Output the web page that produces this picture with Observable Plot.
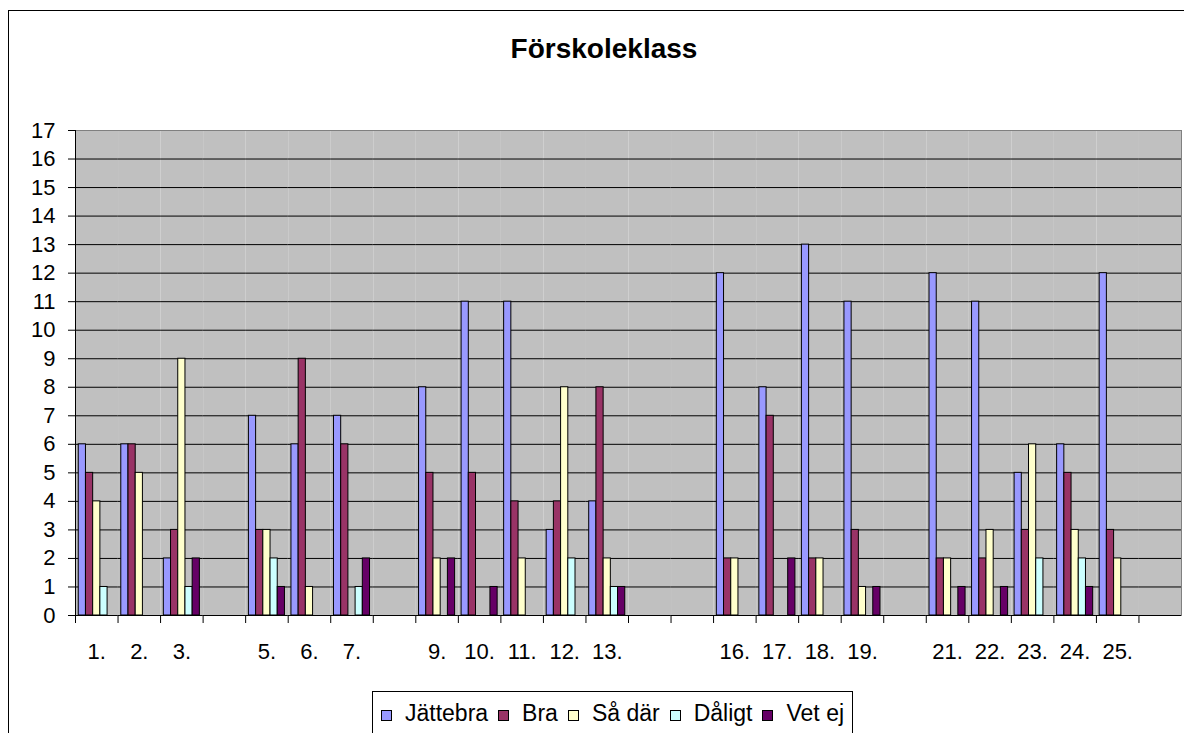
<!DOCTYPE html>
<html>
<head>
<meta charset="utf-8">
<script src="https://cdn.jsdelivr.net/npm/d3@7"></script>
<script src="https://cdn.jsdelivr.net/npm/@observablehq/plot@0.6"></script>
<style>
  html, body { margin: 0; padding: 0; background: #fff; overflow: hidden; }
  #wrap { position: relative; width: 1184px; height: 733px; overflow: hidden;
          font-family: Arial, "Liberation Sans", sans-serif; color: #000; }
  #border { position: absolute; left: 8px; top: 10px; width: 1300px; height: 900px;
            border: 1px solid #000; box-sizing: border-box; }
  #chart { position: absolute; left: 0; top: 0; }
  #title { position: absolute; left: 0; width: 1208px; top: 35px; text-align: center;
           font-weight: bold; font-size: 28px; line-height: 28px; }
  #legend { position: absolute; left: 372px; top: 691px; height: 60px; box-sizing: border-box;
            border: 1px solid #000; padding: 8px 8px 0 8px; display: flex; align-items: flex-start;
            font-size: 23px; line-height: 26px; background: #fff; }
  .item { display: flex; align-items: center; margin-right: 10px; }
  .item:last-child { margin-right: 0; }
  .sw { width: 11px; height: 11px; border: 1px solid #000; box-sizing: border-box; margin-right: 13px; margin-top: 4px; }
</style>
</head>
<body>
<div id="wrap">
  <div id="border"></div>
  <div id="chart"></div>
  <div id="title"></div>
  <div id="legend"></div>
</div>
<script>
const titleText = "Förskoleklass";
const labels = ["1.","2.","3.","","5.","6.","7.","","9.","10.","11.","12.","13.","","","16.","17.","18.","19.","","21.","22.","23.","24.","25.",""];
const seriesNames = ["Jättebra","Bra","Så där","Dåligt","Vet ej"];
const colors = ["#9999FF","#993366","#FFFFCC","#CCFFFF","#660066"];
const jattebra = [6,6,2,0,7,6,7,0,8,11,11,3,4,0,0,12,8,13,11,0,12,11,5,6,12,0];
const bra      = [5,6,3,0,3,9,6,0,5,5,4,4,8,0,0,2,7,2,3,0,2,2,3,5,3,0];
const saDar    = [4,5,9,0,3,1,0,0,2,0,2,8,2,0,0,2,0,2,1,0,2,3,6,3,2,0];
const daligt   = [1,0,1,0,2,0,1,0,0,0,0,2,1,0,0,0,0,0,0,0,0,0,2,2,0,0];
const vetEj    = [0,0,2,0,1,0,2,0,2,1,0,0,1,0,0,0,2,0,1,0,1,1,0,1,0,0];
const yTicks = d3.range(0, 18);

const values = [jattebra, bra, saDar, daligt, vetEj];
const rows = [];
seriesNames.forEach((s, si) => values[si].forEach((v, ci) => {
  if (v > 0) rows.push({cat: ci, series: s, value: v});
}));
const catIndex = d3.range(labels.length);

const W = 1184, H = 733, mL = 75, mR = 3, mT = 130, mB = 118;
const step = (W - mL - mR) / labels.length;

const plot = Plot.plot({
  width: W, height: H,
  marginLeft: mL, marginRight: mR, marginTop: mT, marginBottom: mB,
  facet: {marginTop: 0, marginBottom: 0, marginLeft: 0, marginRight: 0},
  style: {fontFamily: "Arial, 'Liberation Sans', sans-serif", fontSize: "22px", color: "#000", background: "transparent", overflow: "visible"},
  fx: {domain: catIndex, padding: 0, round: false, axis: null, label: null},
  x: {domain: seriesNames, paddingInner: 0, paddingOuter: 0.45, round: false, axis: null},
  y: {domain: [0, 17], axis: null},
  color: {domain: seriesNames, range: colors},
  marks: [
    Plot.ruleY(catIndex, {fx: d => d, y: () => 0, stroke: "#000", strokeOpacity: 0}),
    Plot.frame({fill: "#c0c0c0", stroke: null}),
    Plot.gridY(d3.range(1, 17), {stroke: "#000", strokeOpacity: 1}),
    Plot.frame({anchor: "top", stroke: "#808080"}),
    Plot.frame({anchor: "left", stroke: "#000", facetAnchor: "left"}),
    Plot.frame({anchor: "right", stroke: "#808080", facetAnchor: "right"}),
    Plot.barY(rows, {fx: "cat", x: "series", y: "value", fill: "series", stroke: "#000", strokeWidth: 1}),
    Plot.ruleY(catIndex, {fx: d => d, y: () => 0, stroke: "#000"}),
    Plot.axisY(yTicks, {tickSize: 7, tickPadding: 13, label: null, facetAnchor: "left"}),
    Plot.axisFx({anchor: "bottom", tickSize: 8, dx: -step / 2, text: null, label: null}),
    Plot.axisFx({anchor: "bottom", tickSize: 0, tickPadding: 28, tickFormat: i => labels[i], label: null})
  ]
});
document.getElementById("chart").appendChild(plot);
document.getElementById("title").textContent = titleText;

const legend = document.getElementById("legend");
seriesNames.forEach((s, i) => {
  const item = document.createElement("div");
  item.className = "item";
  const sw = document.createElement("div");
  sw.className = "sw";
  sw.style.background = colors[i];
  const t = document.createElement("span");
  t.textContent = s;
  item.appendChild(sw);
  item.appendChild(t);
  legend.appendChild(item);
});
</script>
</body>
</html>
